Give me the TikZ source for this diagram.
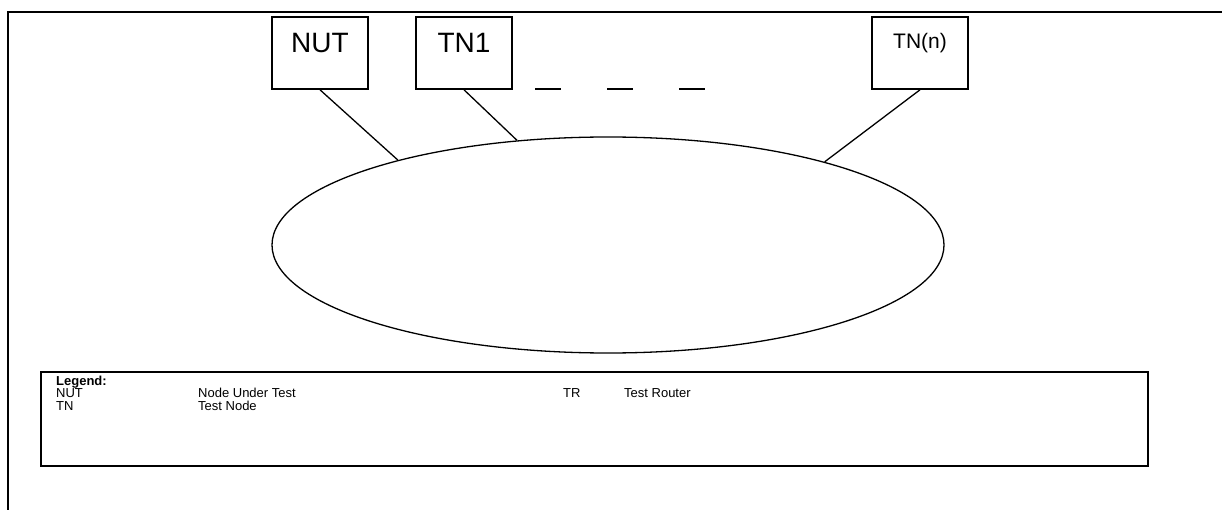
\documentclass[tikz,border=0pt]{standalone}
\usepackage{fontspec}
\setmainfont{Liberation Sans}
\usetikzlibrary{shapes.geometric}
\tikzset{
  % Ramka
  frameline/.style = {line width=2pt, draw=black},
  % Tugun qutilari
  nodebox/.style   = {draw, line width=1.6pt, minimum width=96pt, minimum height=72pt,
                      inner sep=0pt, text depth=20pt},
  boxfont/.style   = {font=\fontsize{28}{32}\selectfont},
  smallbox/.style  = {font=\fontsize{21}{24}\selectfont, text depth=25pt},
  % Tarmoq
  netshape/.style  = {draw, ellipse, line width=1.3pt, minimum width=672pt,
                      minimum height=216pt, inner sep=0pt},
  link/.style      = {line width=1.3pt},
  gapdash/.style   = {line width=1.6pt},
  % Legenda
  legendbox/.style = {line width=2.6pt},
  legtext/.style   = {font=\fontsize{13}{15}\selectfont, inner sep=0pt, anchor=base west},
}
\begin{document}
\begin{tikzpicture}[x=1pt, y=-1pt]
  \useasboundingbox (0,0) rectangle (1222,510);
  % Ramka
  \draw[frameline] (1222,12) -- (8,12) -- (8,510);
  % Qutilar
  \node[nodebox, boxfont] (nut) at (320,53) {NUT};
  \node[nodebox, boxfont] (tnone) at (464,53) {TN1};
  \node[nodebox, smallbox] (tnn) at (920,53) {TN(n)};
  % Uzuq chiziqlar
  \foreach \xa in {535,607,679}
    \draw[gapdash] (\xa,89) -- (\xa+26,89);
  % Tarmoq ellipsi
  \node[netshape] (net) at (608,245) {};
  % Ulanishlar
  \draw[link] (nut.south) -- (net.158.9);
  \draw[link] (tnone.south) -- (net.131.9);
  \draw[link] (tnn.south) -- (net.21.1);
  % Legenda
  \draw[legendbox] (41,372) rectangle (1148,466);
  \node[legtext, font=\fontsize{13}{15}\selectfont\bfseries] (leghead) at (56,385) {Legend:};
  \node[legtext] (legnut) at (56,397.5) {NUT};
  \node[legtext] (legnutd) at (198,397.5) {Node Under Test};
  \node[legtext] (legtr) at (563,397.5) {TR};
  \node[legtext] (legtrd) at (624,397.5) {Test Router};
  \node[legtext] (legtn) at (56,410) {TN};
  \node[legtext] (legtnd) at (198,410) {Test Node};
\end{tikzpicture}
\end{document}
